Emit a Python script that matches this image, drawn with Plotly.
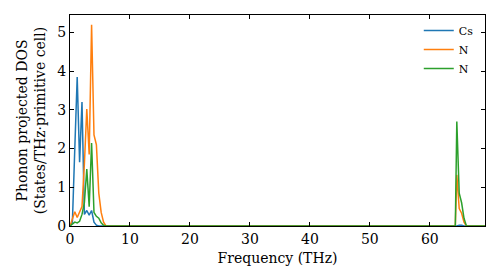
import plotly.graph_objects as go

freq_low = [0.0, 0.4, 0.8, 1.2, 1.6, 2.0, 2.4, 2.8, 3.2, 3.6, 4.0, 4.4, 4.8, 5.2, 5.6, 6.0, 6.4]
cs_low = [0.0, 0.1, 2.0, 3.85, 1.65, 3.2, 0.3, 0.4, 0.28, 0.4, 0.1, 0.02, 0.0, 0.0, 0.0, 0.0, 0.0]
n1_low = [0.0, 0.2, 0.37, 0.22, 0.35, 0.5, 1.6, 3.02, 1.85, 5.2, 2.35, 2.1, 0.85, 0.35, 0.1, 0.0, 0.0]
n2_low = [0.0, 0.05, 0.1, 0.08, 0.12, 0.3, 0.6, 1.47, 0.5, 2.14, 0.35, 0.25, 0.2, 0.08, 0.02, 0.0, 0.0]

freq_high = [64.25, 64.5, 64.9, 65.3, 65.7, 66.1, 69.2]
cs_high = [0.0, 0.0, 0.02, 0.02, 0.0, 0.0, 0.0]
n1_high = [0.0, 1.32, 0.45, 0.33, 0.1, 0.0, 0.0]
n2_high = [0.0, 2.7, 0.85, 0.6, 0.2, 0.0, 0.0]

freq = freq_low + freq_high
series = [
    ("Cs", cs_low + cs_high, "#1f77b4"),
    ("N", n1_low + n1_high, "#ff7f0e"),
    ("N", n2_low + n2_high, "#2ca02c"),
]

x_ticks = [0, 10, 20, 30, 40, 50, 60]
y_ticks = [0, 1, 2, 3, 4, 5]

font = "DejaVu Serif"
fig = go.Figure()
for name, vals, color in series:
    fig.add_trace(go.Scatter(x=freq, y=vals, mode="lines", name=name,
                             line=dict(color=color, width=1.5)))

axis_common = dict(showline=True, linecolor="black", linewidth=1, mirror="allticks",
                   ticks="inside", ticklen=4, tickwidth=1, tickcolor="black",
                   showgrid=False, zeroline=False,
                   tickfont=dict(family=font, size=14, color="black"))
fig.update_layout(
    width=500, height=280,
    margin=dict(l=70, r=15, t=15, b=54),
    plot_bgcolor="white", paper_bgcolor="white",
    font=dict(family=font, size=14, color="black"),
    xaxis=dict(range=[0, 69.2], tickvals=x_ticks,
               title=dict(text="Frequency (THz)", font=dict(family=font, size=14), standoff=7),
               **axis_common),
    yaxis=dict(range=[0, 5.45], tickvals=y_ticks,
               title=dict(text="Phonon projected DOS<br>(States/THz·primitive cell)",
                          font=dict(family=font, size=14), standoff=8),
               **axis_common),
    legend=dict(x=0.985, y=0.995, xanchor="right", yanchor="top",
                bgcolor="rgba(0,0,0,0)", font=dict(family=font, size=11),
                itemwidth=30, tracegroupgap=0),
    showlegend=True,
)
fig.write_html("out.html")
